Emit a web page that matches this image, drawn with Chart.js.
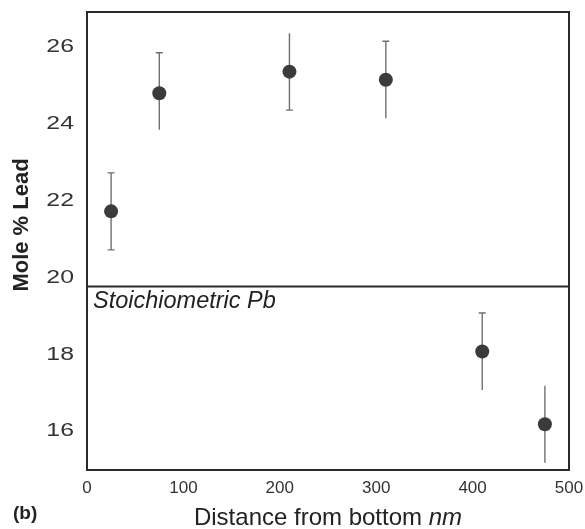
<!DOCTYPE html>
<html><head><meta charset="utf-8">
<script src="https://cdn.jsdelivr.net/npm/chart.js@4"></script>
<style>html,body{margin:0;padding:0;background:#fff}#wrap{width:585px;height:529px;position:relative}</style>
</head><body><div id="wrap"><canvas id="c" width="585" height="529"></canvas></div>
<script>
const distances = [25, 75, 210, 310, 410, 475];
const leadPct = [21.72, 24.79, 25.35, 25.14, 18.08, 16.19];
const errPlus = [1.0, 1.05, 1.0, 1.0, 1.0, 1.0];
const errMinus = [1.0, 0.95, 1.0, 1.0, 1.0, 1.0];
const capTop = [true, true, false, true, true, false];
const capBottom = [true, false, true, false, false, false];
const xTicks = [0, 100, 200, 300, 400, 500];
const yTicks = [16, 18, 20, 22, 24, 26];
const stoichValue = 19.77;
const stoichLabel = 'Stoichiometric Pb';

const FONT = '"Liberation Sans", Arial, sans-serif';

const decor = {
  id: 'decor',
  beforeDatasetsDraw(chart) {
    const {ctx, chartArea: a, scales: {x, y}} = chart;
    ctx.save();
    ctx.strokeStyle = '#707070';
    ctx.lineWidth = 1.4;
    distances.forEach((d, i) => {
      const px = x.getPixelForValue(d);
      const top = y.getPixelForValue(leadPct[i] + errPlus[i]);
      const bot = y.getPixelForValue(leadPct[i] - errMinus[i]);
      ctx.beginPath();
      ctx.moveTo(px, top); ctx.lineTo(px, bot);
      if (capTop[i]) { ctx.moveTo(px - 3.5, top); ctx.lineTo(px + 3.5, top); }
      if (capBottom[i]) { ctx.moveTo(px - 3.5, bot); ctx.lineTo(px + 3.5, bot); }
      ctx.stroke();
    });
    // y tick labels (wide glyphs as in the reference)
    ctx.fillStyle = '#333';
    ctx.font = '18px ' + FONT;
    ctx.textAlign = 'right';
    ctx.textBaseline = 'middle';
    y.ticks.forEach(t => {
      const py = y.getPixelForValue(t.value);
      ctx.save();
      ctx.translate(74, py);
      ctx.scale(1.38, 1);
      ctx.fillText(String(t.value), 0, 0);
      ctx.restore();
    });
    ctx.restore();
  },
  afterDraw(chart) {
    const {ctx, chartArea: a, scales: {x, y}} = chart;
    ctx.save();
    ctx.strokeStyle = '#2a2a2a';
    ctx.lineWidth = 2;
    ctx.strokeRect(a.left, a.top, a.right - a.left, a.bottom - a.top);
    const sy = y.getPixelForValue(stoichValue);
    ctx.beginPath(); ctx.moveTo(a.left, sy); ctx.lineTo(a.right, sy); ctx.stroke();
    ctx.fillStyle = '#222';
    ctx.font = 'italic 23.5px ' + FONT;
    ctx.textBaseline = 'alphabetic';
    ctx.textAlign = 'left';
    ctx.fillText(stoichLabel, a.left + 6, 308);
    // y title
    ctx.save();
    ctx.translate(22, 225);
    ctx.rotate(-Math.PI / 2);
    ctx.textAlign = 'center';
    ctx.textBaseline = 'middle';
    ctx.font = 'bold 22px ' + FONT;
    ctx.fillText('Mole % Lead', 0, 0);
    ctx.restore();
    // x title
    ctx.textBaseline = 'alphabetic';
    ctx.textAlign = 'left';
    const t1 = 'Distance from bottom ';
    const t2 = 'nm';
    ctx.font = 'italic 24px ' + FONT;
    const w2 = ctx.measureText(t2).width;
    ctx.font = '24px ' + FONT;
    const w1 = ctx.measureText(t1).width;
    const sx = 328 - (w1 + w2) / 2;
    ctx.fillText(t1, sx, 525);
    ctx.font = 'italic 24px ' + FONT;
    ctx.fillText(t2, sx + w1, 525);
    // (b)
    ctx.font = 'bold 19px ' + FONT;
    ctx.fillText('(b)', 13, 519);
    ctx.restore();
  }
};

new Chart(document.getElementById('c'), {
  type: 'scatter',
  data: {
    datasets: [{
      data: distances.map((d, i) => ({x: d, y: leadPct[i]})),
      backgroundColor: '#3b3b3b',
      borderColor: '#3b3b3b',
      pointRadius: 7,
      pointHoverRadius: 7,
      borderWidth: 0
    }]
  },
  options: {
    responsive: false,
    animation: false,
    devicePixelRatio: 1,
    layout: {padding: {top: 12, right: 16, left: 0, bottom: 0}},
    plugins: {legend: {display: false}, tooltip: {enabled: false}},
    scales: {
      x: {
        type: 'linear', min: 0, max: 500,
        afterFit(s) { s.height = 59; s.paddingLeft = 0; s.paddingRight = 0; },
        afterBuildTicks(s) { s.ticks = xTicks.map(v => ({value: v})); },
        grid: {display: false, drawTicks: false},
        border: {display: false},
        ticks: {padding: 8, color: '#333', font: {family: FONT, size: 17}}
      },
      y: {
        type: 'linear', min: 15, max: 26.9,
        afterFit(s) { s.width = 87; s.paddingTop = 0; s.paddingBottom = 0; },
        afterBuildTicks(s) { s.ticks = yTicks.map(v => ({value: v})); },
        grid: {display: false, drawTicks: false},
        border: {display: false},
        ticks: {display: false}
      }
    }
  },
  plugins: [decor]
});
</script></body></html>
